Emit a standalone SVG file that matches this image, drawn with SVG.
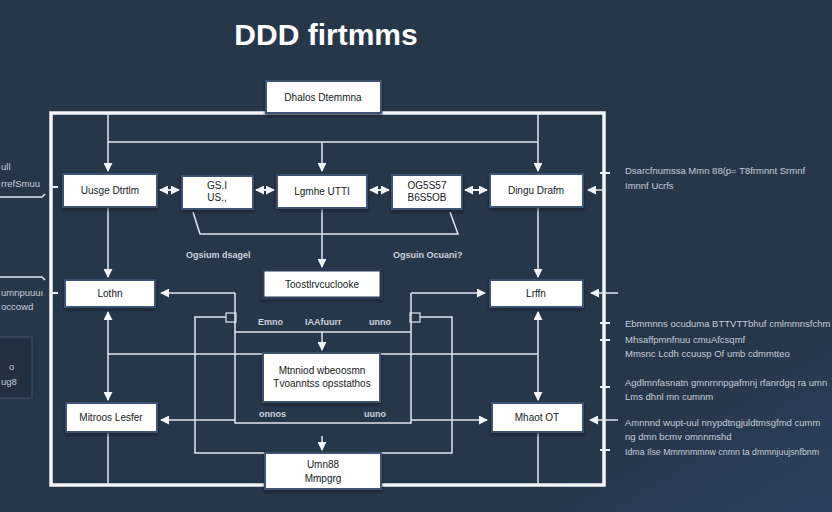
<svg xmlns="http://www.w3.org/2000/svg" width="832" height="512" viewBox="0 0 832 512">
<defs>
<linearGradient id="bg" x1="0" y1="0" x2="1" y2="1">
<stop offset="0" stop-color="#27374a"/>
<stop offset="0.8" stop-color="#27374a"/>
<stop offset="1" stop-color="#2c4160"/>
</linearGradient>
<marker id="ah" viewBox="0 0 10 10" refX="9" refY="5" markerWidth="9" markerHeight="9" orient="auto-start-reverse" markerUnits="userSpaceOnUse">
<path d="M0,0 L10,5 L0,10 Z" fill="#f2f5f9"/>
</marker>
<filter id="sh" x="-10%" y="-10%" width="120%" height="130%">
<feDropShadow dx="0" dy="2" stdDeviation="1.5" flood-color="#0d1520" flood-opacity="0.6"/>
</filter>
</defs>
<style>
.node rect{fill:#ffffff;stroke:#3d5272;stroke-width:2;filter:url(#sh)}
.node text{font-family:"Liberation Sans",Arial,sans-serif;font-size:10px;fill:#151a22;text-anchor:middle}
.ln{stroke:#dfe6ef;stroke-width:1.5;fill:none}
.arr{stroke:#dfe6ef;stroke-width:1.5;fill:none;marker-end:url(#ah)}
.dbl{stroke:#e8edf3;stroke-width:2;fill:none;marker-end:url(#ah);marker-start:url(#ah)}
.lab{font-family:"Liberation Sans",Arial,sans-serif;font-size:9px;fill:#c9d2de;font-weight:bold}
.side{font-family:"Liberation Sans",Arial,sans-serif;font-size:9.5px;fill:#c4ccd8}
.tick{stroke:#e8edf3;stroke-width:2}
</style>
<rect width="832" height="512" fill="url(#bg)"/>
<text x="326" y="45" text-anchor="middle" font-family="Liberation Sans,Arial,sans-serif" font-size="30" font-weight="bold" fill="#ffffff">DDD firtmms</text>

<rect x="51" y="113" width="553" height="372" fill="none" stroke="#f4f6f9" stroke-width="3.5"/>

<g id="connectors">
<path class="ln" d="M108,142 H538"/>
<path class="arr" d="M108,114 V171"/>
<path class="arr" d="M538,114 V171"/>
<path class="arr" d="M322,142 V171"/>
<path class="dbl" d="M160,190 H179"/>
<path class="dbl" d="M256,190 H274"/>
<path class="dbl" d="M370,190 H389"/>
<path class="dbl" d="M465,190 H487"/>
<path class="arr" d="M606,190 H588"/>
<path class="arr" d="M108,208 V277"/>
<path class="arr" d="M538,208 V277"/>
<path class="arr" d="M322,209 V267"/>
<path class="ln" d="M193,212 L200,234 H458 L450,212"/>
<path class="arr" d="M108,354 V312"/>
<path class="arr" d="M538,354 V312"/>
<path class="ln" d="M108,354 H538"/>
<path class="arr" d="M108,354 V400"/>
<path class="arr" d="M538,354 V400"/>
<path class="ln" d="M108,433 V485"/>
<path class="ln" d="M538,433 V485"/>
<path class="arr" d="M235,293 H161"/>
<path class="arr" d="M411,293 H485"/>
<path class="ln" d="M235,293 V423 H411 V293"/>
<path class="ln" d="M235,332 H411"/>
<path class="ln" d="M226,317 H195 V453 H452 V317 H420"/>
<rect x="226" y="313" width="10" height="9" fill="none" stroke="#dfe6ef" stroke-width="1.2"/>
<rect x="410" y="313" width="10" height="9" fill="none" stroke="#dfe6ef" stroke-width="1.2"/>
<path class="arr" d="M322,332 V350"/>
<path class="arr" d="M235,420 H161"/>
<path class="arr" d="M411,420 H487"/>
<path class="arr" d="M322,436 V450"/>
<path class="arr" d="M618,293 H591"/>
<path class="arr" d="M618,420 H590"/>
<path class="ln" d="M0,197 H42 l3,-3"/>
<path class="ln" d="M0,277 H42 l3,3"/>
<path class="tick" d="M50,187 H58 M50,293 H58"/>
<path class="tick" d="M600,173 H610 M600,323 H610 M600,340 H610 M600,387 H610 M600,450 H610"/>
</g>

<g id="header"><g class="node"><rect x="266" y="81" width="115" height="32"/><text x="323" y="101">Dhalos Dtemmna</text></g></g>
<g id="n-usage" class="node"><rect x="63" y="174" width="94" height="33"/><text x="110" y="194">Uusge Dtrtlm</text></g>
<g id="n-gs" class="node"><rect x="182" y="176" width="71" height="33"/><text x="217" y="189">GS.I</text><text x="217" y="201">US.,</text></g>
<g id="n-lgmhe" class="node"><rect x="277" y="175" width="90" height="33"/><text x="322" y="195">Lgmhe UTTI</text></g>
<g id="n-og" class="node"><rect x="392" y="175" width="70" height="34"/><text x="427" y="189">OG5S57</text><text x="427" y="201">B6S5OB</text></g>
<g id="n-dingu" class="node"><rect x="490" y="174" width="93" height="33"/><text x="536" y="194">Dingu Drafm</text></g>
<g id="n-toost" class="node"><rect x="263" y="270" width="118" height="28" style="stroke:#2a3a55;stroke-width:3"/><text x="322" y="288">Toostlrvcuclooke</text></g>
<g id="n-lothn" class="node"><rect x="65" y="280" width="90" height="27"/><text x="110" y="297">Lothn</text></g>
<g id="n-lrffn" class="node"><rect x="490" y="280" width="93" height="27"/><text x="536" y="297">Lrffn</text></g>
<g id="n-mtn" class="node"><rect x="263" y="353" width="117" height="49"/><text x="322" y="374">Mtnniod wbeoosmn</text><text x="322" y="387">Tvoanntss opsstathos</text></g>
<g id="n-mitroos" class="node"><rect x="66" y="403" width="91" height="29"/><text x="111" y="421">Mitroos Lesfer</text></g>
<g id="n-mhaot" class="node"><rect x="492" y="403" width="91" height="29"/><text x="537" y="421">Mhaot OT</text></g>
<g id="n-umn" class="node"><rect x="265" y="453" width="116" height="36"/><text x="323" y="468">Umn88</text><text x="323" y="482">Mmpgrg</text></g>

<g id="labels">
<text class="lab" x="186" y="258">Ogsium dsagel</text>
<text class="lab" x="393" y="258">Ogsuin Ocuani?</text>
<text class="lab" x="258" y="325">Emno</text>
<text class="lab" x="305" y="325">IAAfuurr</text>
<text class="lab" x="369" y="325">unno</text>
<text class="lab" x="259" y="417">onnos</text>
<text class="lab" x="364" y="417">uuno</text>
</g>

<g id="left-notes">
<text class="side" x="1" y="170">ull</text>
<text class="side" x="1" y="187">rrefSmuu</text>
<text class="side" x="1" y="296">umnpuuuı</text>
<text class="side" x="1" y="310">occowd</text>
<rect x="-2" y="337" width="34" height="61" fill="#222f40" stroke="#46566c" stroke-width="1"/>
<text class="side" x="9" y="370">o</text>
<text class="side" x="1" y="385">ug8</text>
</g>

<g id="right-notes">
<text class="side" x="625" y="174">Dsarcfnumssa Mmn 88(p= T8frmnnt Srmnf</text>
<text class="side" x="625" y="189">Imnnf Ucrfs</text>
<text class="side" x="625" y="327">Ebmmnns ocuduma BTTVTTbhuf cmlmmnsfchm</text>
<text class="side" x="625" y="343">Mhsaffpmnfnuu cmuAfcsqmf</text>
<text class="side" x="625" y="357">Mmsnc Lcdh ccuusp Of umb cdmmtteo</text>
<text class="side" x="625" y="386">Agdlmnfasnatn gmnrnnpgafmnj rfanrdgq ra umn</text>
<text class="side" x="625" y="400">Lms dhnl mn cumnm</text>
<text class="side" x="625" y="426">Amnnnd wupt-uul nnypdtngjuldtmsgfmd cumm</text>
<text class="side" x="625" y="440">ng dmn bcmv omnnmshd</text>
<text class="side" x="625" y="455" style="font-size:8.8px">Idma Ilse Mmmnmmnw cnmn ta dmmnjuujsnfbnm</text>
</g>
</svg>
